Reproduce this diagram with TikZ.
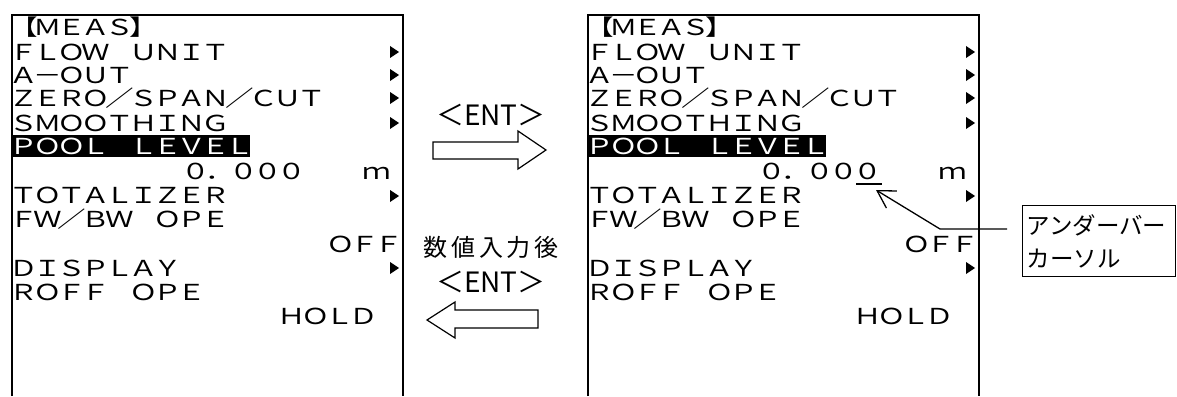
\documentclass[tikz,border=0pt]{standalone}
\usepackage{fontspec}
\usepackage{graphicx}
\newfontfamily\lcdfont{Noto Sans CJK JP}
\usetikzlibrary{arrows.meta}

% text set in fixed cells, as on the LCD
\newlength\cellw
\def\cellsx{1}
\def\cellrun#1{\ifx#1\relax\else\makebox[\cellw]{\scalebox{\cellsx}[1]{#1}}\expandafter\cellrun\fi}
\newcommand\cells[3][1]{\def\cellsx{#1}\setlength\cellw{#2}\edef\celltxt{#3}\expandafter\cellrun\celltxt\relax}

\tikzset{
  frame/.style={line width=1.6pt},
  menu/.style={anchor=base west, inner sep=0pt, font=\lcdfont\fontsize{22}{22}\selectfont},
  key/.style={inner sep=0pt, font=\lcdfont\fontsize{28}{28}\selectfont},
  blockarrow/.style={draw, line width=1.2pt, fill=white},
  callout/.style={line width=1.3pt, -{Straight Barb[length=17pt,width=20pt]}},
}

\begin{document}
\begin{tikzpicture}[x=1pt,y=-1pt]
\useasboundingbox (0,0) rectangle (1177,396);
% LCD screens, before and after <ENT>
\foreach \s/\dx in {a/0,b/576} {
  \draw[frame] (\dx+12,396) -- (\dx+12,15) -- (\dx+403,15) -- (\dx+403,396);
  \foreach \r/\y/\txt in {meas/36/【ＭＥＡＳ】, flow/60/ＦＬＯＷ　ＵＮＩＴ, aout/83/Ａ－ＯＵＴ,
      zero/106/ＺＥＲＯ／ＳＰＡＮ／ＣＵＴ, smooth/131/ＳＭＯＯＴＨＩＮＧ, total/203/ＴＯＴＡＬＩＺＥＲ,
      fwbw/227/ＦＷ／ＢＷ　ＯＰＥ, disp/276/ＤＩＳＰＬＡＹ, roff/300/ＲＯＦＦ　ＯＰＥ} {
    \node[menu] (\s-\r) at (\dx+12,\y) {\cells[1.3]{24pt}{\txt}};
  }
  % submenu marks
  \foreach \y in {52,75,98,123,196,268} {
    \fill (\dx+390,\y-6) -- (\dx+399,\y) -- (\dx+390,\y+6) -- cycle;
  }
  % selected item
  \fill (\dx+12,135) rectangle (\dx+250,157);
  \node[menu, text=white] (\s-pool) at (\dx+12,154) {\cells[1.3]{24pt}{ＰＯＯＬ　ＬＥＶＥＬ}};
  % values
  \node[menu] (\s-level) at (\dx+184,179) {\cells[1.3]{24pt}{０．０００}};
  \node[menu] (\s-unit) at (\dx+365,179) {\cells[1.3]{24pt}{ｍ}};
  \node[menu] (\s-off) at (\dx+329,252) {\cells[1.3]{24pt}{ＯＦＦ}};
  \node[menu] (\s-hold) at (\dx+280,324) {\cells[1.3]{24pt}{ＨＯＬＤ}};
}
% under-bar cursor
\draw[line width=1.5pt] (856,184) -- (882,184);
\coordinate (cursor) at (876,190);

% key operation
\draw[blockarrow] (433,142) -- (518,142) -- (518,131) -- (546,150) -- (518,169) -- (518,159) -- (433,159) -- cycle;
\draw[blockarrow] (538,310) -- (455,310) -- (455,302) -- (427,320) -- (455,338) -- (455,328) -- (538,328) -- cycle;
\node[key] (ent1) at (491,115) {＜ENT＞};
\node[key, font=\lcdfont\fontsize{24}{24}\selectfont] (after) at (491,247) {\cells{27.6pt}{数値入力後}};
\node[key] (ent2) at (491,282) {＜ENT＞};

% callout
\node[draw, line width=1.2pt, anchor=north west, minimum height=71pt, inner sep=4pt,
  text width=145pt, align=left, font=\lcdfont\fontsize{23.5}{33}\selectfont] (note) at (1022,205) {アンダーバー\\カーソル};
\coordinate (bend) at (940,229);
\coordinate (lead) at (1007,229);
\draw[callout] (lead) -- (bend) -- (cursor);
\end{tikzpicture}
\end{document}
